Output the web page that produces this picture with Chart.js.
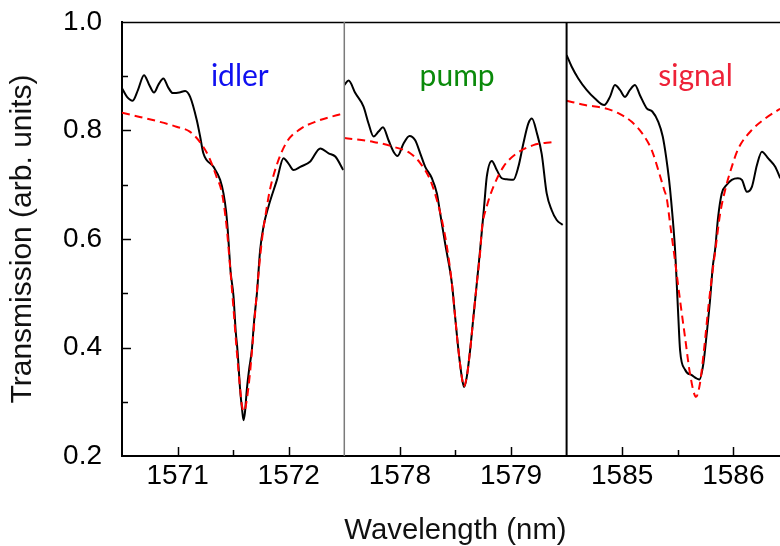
<!DOCTYPE html>
<html>
<head>
<meta charset="utf-8">
<title>Transmission</title>
<script src="https://cdn.jsdelivr.net/npm/chart.js@4.4.1/dist/chart.umd.min.js"></script>
<style>
  html, body { margin: 0; padding: 0; background: #fff; }
  #wrap { width: 780px; height: 546px; }
</style>
</head>
<body>
<div id="wrap"><canvas id="transChart" width="780" height="546"></canvas></div>
<script>
// --- data (wavelength in nm, transmission in arb. units) ---
const idlerWl = [1570.500, 1570.545, 1570.596, 1570.644, 1570.698, 1570.743, 1570.788, 1570.829, 1570.872, 1570.914,
                 1570.957, 1571.016, 1571.068, 1571.113, 1571.173, 1571.203, 1571.232, 1571.323, 1571.383, 1571.413,
                 1571.437, 1571.452, 1571.465, 1571.477, 1571.503, 1571.523, 1571.539, 1571.563, 1571.581, 1571.593,
                 1571.606, 1571.623, 1571.644, 1571.668, 1571.689, 1571.714, 1571.743, 1571.775, 1571.818, 1571.894,
                 1571.953, 1571.995, 1572.043, 1572.104, 1572.194, 1572.284, 1572.359, 1572.419, 1572.491];
const idlerT = [0.878, 0.862, 0.855, 0.875, 0.902, 0.885, 0.870, 0.885, 0.896, 0.880,
                0.869, 0.870, 0.873, 0.862, 0.819, 0.789, 0.758, 0.733, 0.709, 0.684,
                0.650, 0.615, 0.575, 0.540, 0.495, 0.430, 0.395, 0.322, 0.285, 0.266,
                0.280, 0.322, 0.360, 0.395, 0.450, 0.500, 0.580, 0.625, 0.660, 0.709,
                0.749, 0.740, 0.727, 0.733, 0.743, 0.767, 0.758, 0.752, 0.727];
const idlerFitWl = [1570.50, 1570.66, 1570.84, 1570.99, 1571.11, 1571.20, 1571.28, 1571.35, 1571.40, 1571.44,
                    1571.47, 1571.50, 1571.53, 1571.56, 1571.58, 1571.60, 1571.62, 1571.65, 1571.68, 1571.70,
                    1571.73, 1571.76, 1571.80, 1571.83, 1571.89, 1571.98, 1572.10, 1572.25, 1572.43, 1572.47];
const idlerFitT = [0.833, 0.825, 0.816, 0.807, 0.798, 0.779, 0.752, 0.715, 0.684, 0.625,
                   0.555, 0.480, 0.400, 0.330, 0.292, 0.282, 0.300, 0.350, 0.420, 0.470,
                   0.540, 0.600, 0.655, 0.690, 0.735, 0.778, 0.802, 0.817, 0.828, 0.830];

const pumpWl = [1577.500, 1577.539, 1577.599, 1577.673, 1577.718, 1577.763, 1577.808, 1577.848, 1577.898, 1577.943,
                1577.979, 1578.033, 1578.087, 1578.138, 1578.183, 1578.228, 1578.288, 1578.333, 1578.363, 1578.407,
                1578.468, 1578.497, 1578.527, 1578.557, 1578.578, 1578.602, 1578.632, 1578.662, 1578.692, 1578.722,
                1578.758, 1578.782, 1578.827, 1578.872, 1578.917, 1578.962, 1579.021, 1579.066, 1579.111, 1579.156,
                1579.188, 1579.233, 1579.276, 1579.321, 1579.366, 1579.411, 1579.465];
const pumpT = [0.884, 0.892, 0.869, 0.844, 0.813, 0.789, 0.798, 0.806, 0.782, 0.761,
               0.753, 0.776, 0.790, 0.782, 0.758, 0.733, 0.712, 0.684, 0.647, 0.592,
               0.518, 0.457, 0.395, 0.346, 0.327, 0.346, 0.395, 0.457, 0.518, 0.580,
               0.660, 0.715, 0.744, 0.727, 0.712, 0.710, 0.709, 0.733, 0.776, 0.813,
               0.822, 0.795, 0.757, 0.684, 0.653, 0.635, 0.626];
const pumpFitWl = [1577.500, 1577.763, 1577.943, 1578.093, 1578.183, 1578.273, 1578.333, 1578.378, 1578.423, 1578.468,
                   1578.497, 1578.527, 1578.557, 1578.573, 1578.602, 1578.632, 1578.662, 1578.692, 1578.722, 1578.737,
                   1578.782, 1578.841, 1578.931, 1579.052, 1579.201, 1579.381];
const pumpFitT = [0.786, 0.779, 0.770, 0.758, 0.740, 0.709, 0.672, 0.635, 0.586, 0.518,
                  0.457, 0.395, 0.346, 0.328, 0.346, 0.395, 0.457, 0.518, 0.575, 0.617,
                  0.660, 0.696, 0.733, 0.758, 0.773, 0.779];

const signalWl = [1584.500, 1584.545, 1584.605, 1584.680, 1584.755, 1584.839, 1584.890, 1584.935, 1584.980, 1585.025,
                  1585.070, 1585.115, 1585.160, 1585.221, 1585.271, 1585.325, 1585.365, 1585.395, 1585.422, 1585.440,
                  1585.476, 1585.491, 1585.505, 1585.521, 1585.566, 1585.626, 1585.695, 1585.731, 1585.761, 1585.791,
                  1585.815, 1585.836, 1585.863, 1585.896, 1585.941, 1585.986, 1586.041, 1586.077, 1586.122, 1586.167,
                  1586.212, 1586.257, 1586.316, 1586.377, 1586.422];
const signalT = [0.939, 0.918, 0.896, 0.875, 0.859, 0.847, 0.862, 0.884, 0.875, 0.862,
                 0.875, 0.884, 0.865, 0.841, 0.835, 0.816, 0.789, 0.752, 0.709, 0.672,
                 0.580, 0.518, 0.457, 0.395, 0.359, 0.349, 0.341, 0.371, 0.426, 0.488,
                 0.549, 0.580, 0.640, 0.684, 0.700, 0.709, 0.712, 0.709, 0.687, 0.696,
                 0.736, 0.761, 0.748, 0.733, 0.712];
const signalFitWl = [1584.500, 1584.665, 1584.845, 1584.965, 1585.086, 1585.190, 1585.266, 1585.325, 1585.379, 1585.401,
                     1585.430, 1585.475, 1585.520, 1585.565, 1585.610, 1585.665, 1585.700, 1585.736, 1585.776, 1585.815,
                     1585.845, 1585.880, 1585.926, 1585.986, 1586.046, 1586.167, 1586.286, 1586.405, 1586.422];
const signalFitT = [0.855, 0.847, 0.841, 0.832, 0.816, 0.792, 0.764, 0.727, 0.690, 0.675,
                    0.630, 0.561, 0.488, 0.420, 0.352, 0.309, 0.334, 0.395, 0.475, 0.543,
                    0.590, 0.645, 0.690, 0.733, 0.767, 0.801, 0.822, 0.838, 0.840];

// panels: axis ranges and labels
const panelNames = ['idler', 'pump', 'signal'];
const panelColors = ['#1010f0', '#0a8a0a', '#ee2238'];
const panelMin = [1570.5, 1577.5, 1584.5];
const panelMax = [1572.5, 1579.5, 1586.42];
const panelLabelWl = [1571.56, 1578.515, 1585.66];
const panelLabelT = 0.882;

const TICK_FONT = { family: '"Liberation Sans", Arial, sans-serif', size: 28 };
const TITLE_FONT = { family: '"Liberation Sans", Arial, sans-serif', size: 30 };

function pts(xs, ys) {
    return xs.map((x, i) => ({ x: x, y: ys[i] }));
}

const series = [
    { axis: 'x1', wl: idlerWl, t: idlerT, fitWl: idlerFitWl, fitT: idlerFitT },
    { axis: 'x2', wl: pumpWl, t: pumpT, fitWl: pumpFitWl, fitT: pumpFitT },
    { axis: 'x3', wl: signalWl, t: signalT, fitWl: signalFitWl, fitT: signalFitT }
];

const datasets = [];
series.forEach(s => {
    datasets.push({
        data: pts(s.fitWl, s.fitT),
        xAxisID: s.axis,
        borderColor: '#ff0000',
        borderWidth: 2,
        borderDash: [8, 5],
        pointRadius: 0,
        cubicInterpolationMode: 'monotone',
        order: 0
    });
    datasets.push({
        data: pts(s.wl, s.t),
        xAxisID: s.axis,
        borderColor: '#000',
        borderWidth: 2,
        pointRadius: 0,
        cubicInterpolationMode: 'monotone',
        order: 1
    });
});

function xAxis(i, withTitle) {
    return {
        type: 'linear',
        position: 'bottom',
        stack: 'wl',
        stackWeight: panelMax[i] - panelMin[i],
        min: panelMin[i],
        max: panelMax[i],
        grid: { display: false },
        border: { display: true, color: '#000', width: 2 },
        ticks: {
            stepSize: 0.5,
            includeBounds: false,
            autoSkip: false,
            maxRotation: 0,
            padding: -5,
            color: '#000',
            font: TICK_FONT,
            callback: v => Number.isInteger(v) ? String(v) : ''
        },
        title: {
            display: withTitle,
            text: 'Wavelength (nm)',
            color: '#111',
            font: TITLE_FONT,
            padding: { top: 0, bottom: -3 }
        },
        afterFit: sc => { sc.height = 90; sc.paddingLeft = 0; sc.paddingRight = 0; }
    };
}

// inward tick marks, panel frame and panel names
const framePlugin = {
    id: 'frame',
    afterDraw(chart) {
        const ctx = chart.ctx;
        const area = chart.chartArea;
        ctx.save();
        ctx.strokeStyle = '#000';
        ctx.lineWidth = 1.5;
        ['x1', 'x2', 'x3'].forEach(id => {
            const sc = chart.scales[id];
            sc.ticks.forEach(t => {
                if (t.value <= sc.min + 1e-6 || t.value >= sc.max - 1e-6) return;
                const px = Math.round(sc.getPixelForValue(t.value)) + 0.5;
                const len = Number.isInteger(t.value) ? 9 : 6;
                ctx.beginPath();
                ctx.moveTo(px, area.bottom);
                ctx.lineTo(px, area.bottom - len);
                ctx.stroke();
            });
        });
        const ys = chart.scales.y;
        ys.ticks.forEach(t => {
            if (t.value <= ys.min + 1e-6 || t.value >= ys.max - 1e-6) return;
            const py = Math.round(ys.getPixelForValue(t.value)) + 0.5;
            const len = Math.round(t.value * 10) % 2 === 0 ? 9 : 6;
            ctx.beginPath();
            ctx.moveTo(area.left, py);
            ctx.lineTo(area.left + len, py);
            ctx.stroke();
        });

        // top border
        ctx.beginPath();
        ctx.moveTo(area.left, area.top + 0.5);
        ctx.lineTo(area.right, area.top + 0.5);
        ctx.stroke();

        // panel dividers
        const d1 = chart.scales.x1.right;
        ctx.strokeStyle = '#7a7a7a';
        ctx.beginPath();
        ctx.moveTo(d1, area.top);
        ctx.lineTo(d1, area.bottom);
        ctx.stroke();
        const d2 = chart.scales.x2.right;
        ctx.strokeStyle = '#000';
        ctx.lineWidth = 2;
        ctx.beginPath();
        ctx.moveTo(d2, area.top);
        ctx.lineTo(d2, area.bottom);
        ctx.stroke();

        // panel names
        ctx.font = '30px Lato, "Open Sans", sans-serif';
        ctx.textAlign = 'center';
        ctx.textBaseline = 'alphabetic';
        panelNames.forEach((name, i) => {
            const sc = chart.scales['x' + (i + 1)];
            ctx.fillStyle = panelColors[i];
            ctx.fillText(name, sc.getPixelForValue(panelLabelWl[i]), ys.getPixelForValue(panelLabelT));
        });
        ctx.restore();
    }
};

const ctx = document.getElementById('transChart').getContext('2d');
new Chart(ctx, {
    type: 'line',
    data: { datasets: datasets },
    options: {
        responsive: false,
        animation: false,
        layout: { padding: { top: 22, left: 0, right: 0, bottom: 0 } },
        scales: {
            x1: xAxis(0, false),
            x2: xAxis(1, true),
            x3: xAxis(2, false),
            y: {
                type: 'linear',
                position: 'left',
                min: 0.2,
                max: 1.0,
                grid: { display: false },
                border: { display: true, color: '#000', width: 2 },
                ticks: {
                    stepSize: 0.1,
                    autoSkip: false,
                    padding: 12,
                    color: '#000',
                    font: TICK_FONT,
                    callback: v => Math.round(v * 10) % 2 === 0 ? v.toFixed(1) : ''
                },
                title: {
                    display: true,
                    text: 'Transmission (arb. units)',
                    color: '#111',
                    font: TITLE_FONT,
                    padding: { top: 5, bottom: 0 }
                },
                afterFit: sc => { sc.width = 122; sc.paddingTop = 0; sc.paddingBottom = 0; }
            }
        },
        plugins: {
            legend: { display: false },
            tooltip: { enabled: false }
        }
    },
    plugins: [framePlugin]
});
</script>
</body>
</html>
